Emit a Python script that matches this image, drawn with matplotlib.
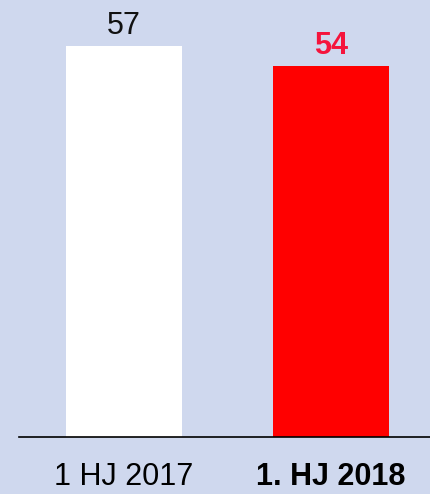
import matplotlib
matplotlib.use("Agg")
import matplotlib.pyplot as plt

categories = ["1 HJ 2017", "1. HJ 2018"]
values = [57, 54]
bar_colors = ["#FFFFFF", "#FF0000"]
label_colors = ["#111111", "#F5143C"]
label_weights = ["normal", "bold"]

plt.rcParams['font.family'] = ['Liberation Sans', 'DejaVu Sans']
bg = "#CFD8EE"

fig = plt.figure(figsize=(4.30, 4.94), dpi=100, facecolor=bg)
ax = fig.add_axes([19/430, 57/494, 411/430, 437/494])
ax.set_facecolor(bg)

x = list(range(len(categories)))
ax.bar(x, values, width=0.556, color=bar_colors, zorder=2)
ax.set_xlim(-0.507, 1.478)
ax.set_ylim(0, 63.66)

for xi, v, c, w in zip(x, values, label_colors, label_weights):
    ax.annotate(str(v), (xi, v), xytext=(0, 8.6), textcoords="offset points",
                ha="center", va="baseline", fontsize=22, color=c, fontweight=w)

for s in ["top", "right", "left"]:
    ax.spines[s].set_visible(False)
ax.spines["bottom"].set_color("#000000")
ax.spines["bottom"].set_linewidth(1.2)
ax.set_yticks([])
ax.set_xticks(x)
ax.set_xticklabels(categories, fontsize=22)
ax.get_xticklabels()[1].set_fontweight("bold")
ax.tick_params(axis="x", length=0, pad=18)

fig.savefig("out.png", dpi=100, facecolor=bg)
